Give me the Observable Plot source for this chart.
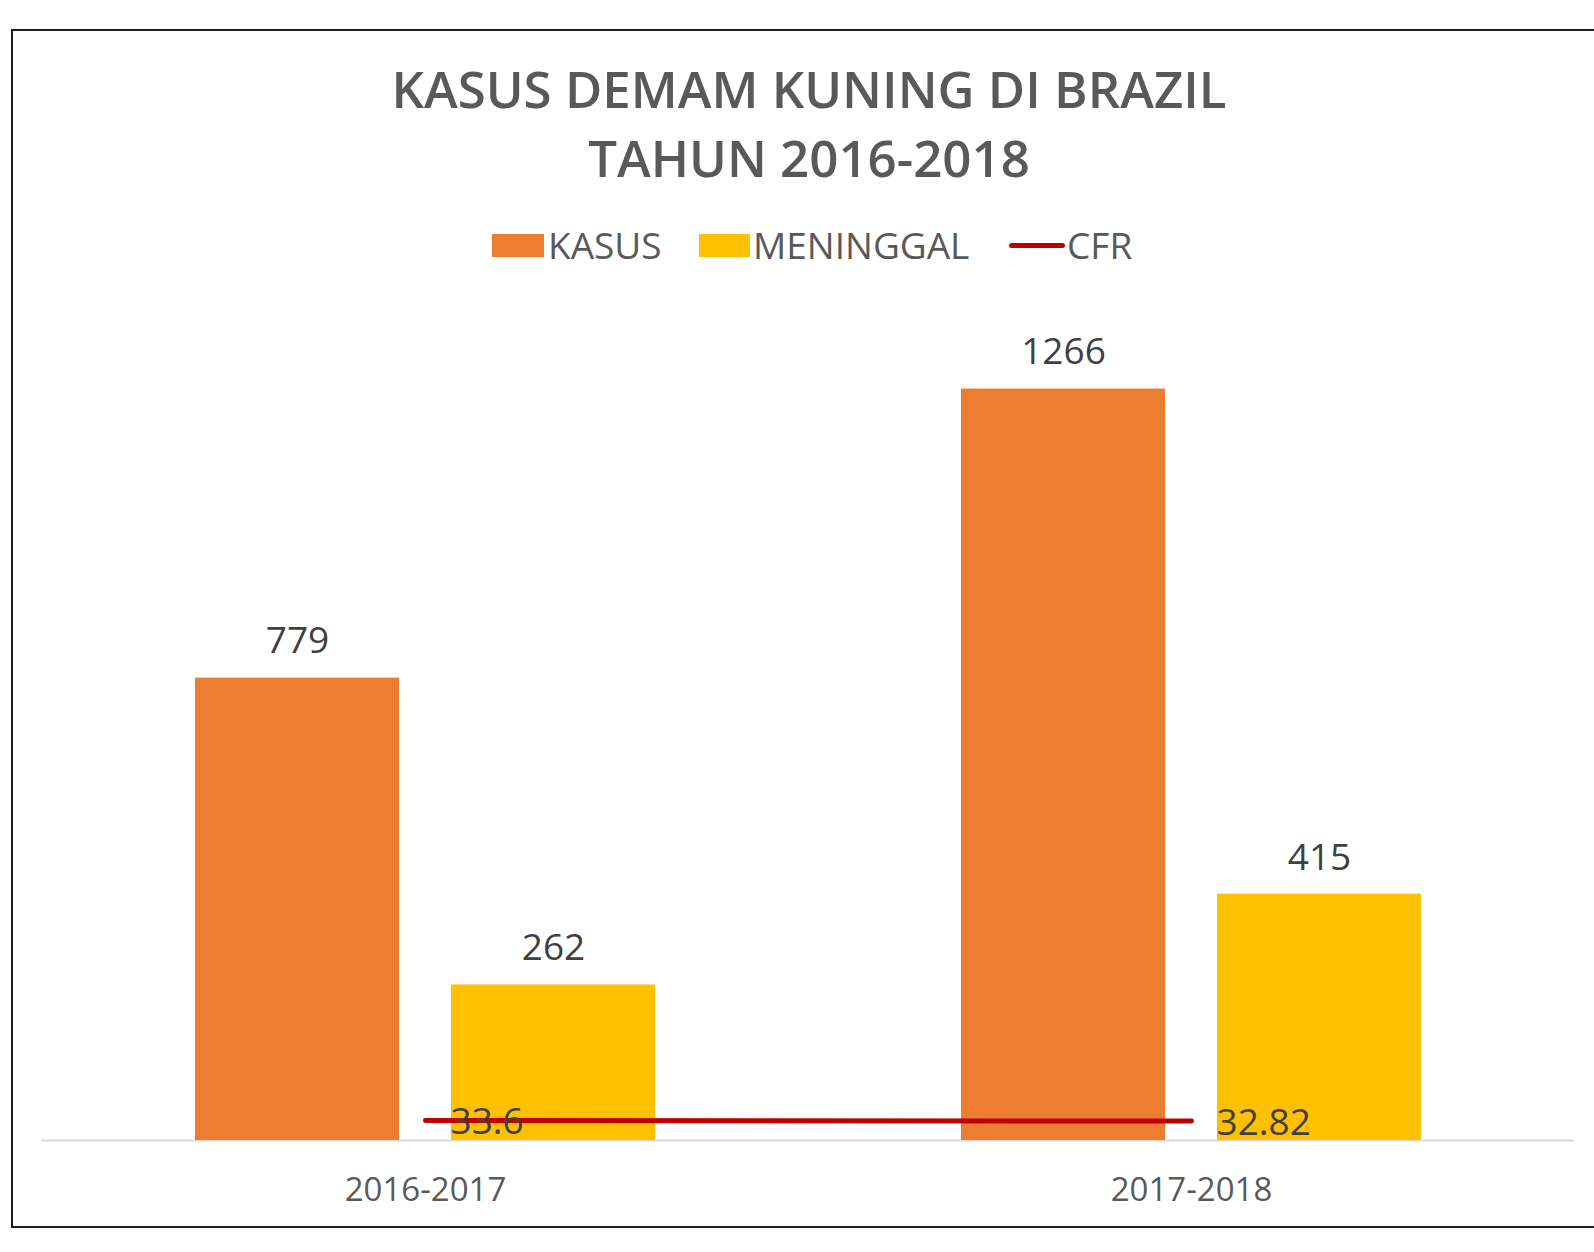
<!DOCTYPE html>
<html><head><meta charset="utf-8">
<script src="https://cdn.jsdelivr.net/npm/d3@7"></script>
<script src="https://cdn.jsdelivr.net/npm/@observablehq/plot@0.6"></script>
<style>
html,body{margin:0;padding:0;background:#fff;overflow:hidden;}
#wrap{position:relative;width:1594px;height:1252px;font-family:"Open Sans",sans-serif;overflow:hidden;}
#frame{position:absolute;left:11px;top:29px;width:1620px;height:1199px;border:2px solid #1e1e1e;box-sizing:border-box;}
.t{position:absolute;left:0;width:1618px;text-align:center;font-weight:600;font-size:51px;line-height:51px;color:#595959;white-space:nowrap;}
.lt{position:absolute;font-size:37px;line-height:37px;color:#595959;white-space:nowrap;}
.sw{position:absolute;}
#chart{position:absolute;left:0;top:250px;}
</style>
</head><body>
<div id="wrap">
  <div id="frame"></div>
  <div class="t" style="top:63px">KASUS DEMAM KUNING DI BRAZIL</div>
  <div class="t" style="top:132px">TAHUN 2016-2018</div>
  <div class="sw" style="left:492px;top:234px;width:52px;height:23px;background:#ED7D31"></div>
  <div class="lt" style="left:548px;top:225.5px">KASUS</div>
  <div class="sw" style="left:699px;top:234px;width:51px;height:23px;background:#FFC000"></div>
  <div class="lt" style="left:753px;top:225.5px">MENINGGAL</div>
  <div class="sw" style="left:1009px;top:243px;width:56px;height:5px;border-radius:3px;background:#C00000"></div>
  <div class="lt" style="left:1067px;top:225.5px">CFR</div>
  <div id="chart"></div>
</div>
<script>
const periods = ["2016-2017", "2017-2018"];
const kasus = [779, 1266];
const meninggal = [262, 415];
const cfr = [33.6, 32.82];

const rows = periods.map((p, i) => ({period: p, kasus: kasus[i], meninggal: meninggal[i], cfr: cfr[i]}));

const chart = Plot.plot({
  width: 1594,
  height: 970,
  marginLeft: 41,
  marginRight: 20,
  marginTop: 59,
  marginBottom: 80,
  style: {background: "none", fontFamily: "Open Sans", overflow: "visible"},
  x: {domain: periods, paddingInner: 0.4, paddingOuter: 0.2, label: null},
  y: {domain: [0, 1400], axis: null},
  marks: [
    Plot.ruleY([0], {stroke: "#d9d9d9", strokeWidth: 2}),
    Plot.barY(rows, {x: "period", y: "kasus", fill: "#ED7D31", insetRight: 256}),
    Plot.barY(rows, {x: "period", y: "meninggal", fill: "#FFC000", insetLeft: 256}),
    Plot.text(rows, {x: "period", y: "kasus", text: d => String(d.kasus), dx: -128, dy: -36.5, fontSize: 37, fill: "#404040"}),
    Plot.text(rows, {x: "period", y: "meninggal", text: d => String(d.meninggal), dx: 128, dy: -36.5, fontSize: 37, fill: "#404040"}),
    Plot.line(rows, {x: "period", y: "cfr", stroke: "#C00000", strokeWidth: 5, strokeLinecap: "round"}),
    Plot.text(rows, {x: "period", y: "cfr", text: d => String(d.cfr), textAnchor: "start", dx: 25, dy: 2, fontSize: 37, fill: "#404040"}),
    Plot.axisX({tickSize: 0, tickPadding: 37, fontSize: 33, fill: "#595959"})
  ]
});
document.getElementById("chart").appendChild(chart);
</script>
</body></html>
